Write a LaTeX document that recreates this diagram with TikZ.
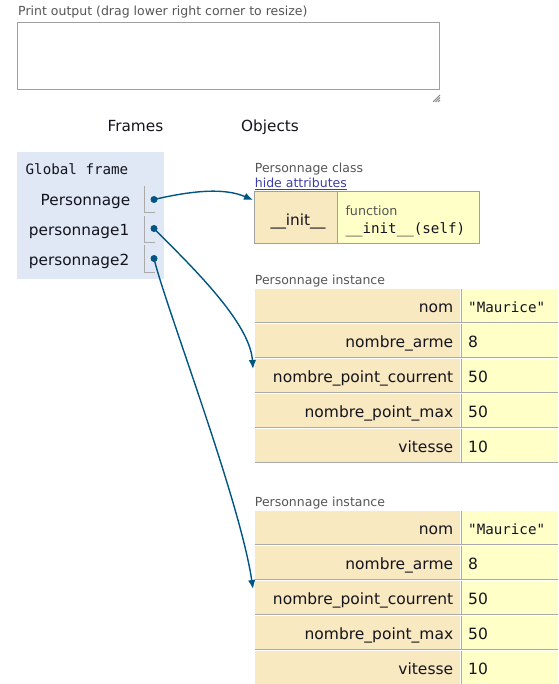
\documentclass[tikz,border=0pt]{standalone}
\usepackage{fontspec}
\setmainfont{DejaVu Sans}
\setmonofont{DejaVu Sans Mono}
\usetikzlibrary{arrows.meta,calc}
\definecolor{framebg}{RGB}{223,232,244}
\definecolor{keyfill}{RGB}{249,233,192}
\definecolor{valfill}{RGB}{255,255,200}
\definecolor{cellline}{RGB}{170,170,170}
\definecolor{boxline}{RGB}{160,160,160}
\definecolor{arrowc}{RGB}{0,85,131}
\definecolor{lblgray}{RGB}{85,85,85}
\definecolor{linkc}{RGB}{60,60,170}
\definecolor{txt}{RGB}{20,20,30}
\newcommand{\heaprow}[5]{% #1 prefix, #2 top y, #3 key, #4 value, #5 value style
  \node[keycell] (#1k) at (255,#2) {};
  \node[valcell] (#1v) at (462,#2) {};
  \draw[rowline] (255,#2+33.5) -- (558,#2+33.5);
  \draw[rowline] (461,#2) -- (461,#2+34);
  \node[keytext] (#1kt) at ($(#1k.east)+(-7,3.8)$) {#3};
  \node[#5] (#1vt) at ($(#1v.west)+(6,3.8)$) {#4};
}
\begin{document}
\begin{tikzpicture}[x=1pt,y=-1pt,
  lbl/.style={font=\fontsize{12.5}{15}\selectfont, text=lblgray, inner sep=0, anchor=mid west},
  head/.style={font=\fontsize{15.3}{18}\selectfont, text=txt, inner sep=0, anchor=mid},
  var/.style={font=\fontsize{15.3}{18}\selectfont, text=txt, inner sep=0, anchor=mid east},
  monotext/.style={font=\ttfamily\fontsize{14.2}{17}\selectfont, text=txt, inner sep=0, anchor=mid west},
  keytext/.style={font=\fontsize{15.5}{18}\selectfont, text=txt, inner sep=0, anchor=mid east},
  valtext/.style={font=\fontsize{15.5}{18}\selectfont, text=txt, inner sep=0, anchor=mid west},
  keycell/.style={fill=keyfill, draw=none, inner sep=0, anchor=north west, minimum width=205pt, minimum height=33pt},
  valcell/.style={fill=valfill, draw=none, inner sep=0, anchor=north west, minimum width=96pt, minimum height=33pt},
  rowline/.style={draw=cellline, line width=1pt},
  slotline/.style={draw=cellline, line width=1pt},
  dot/.style={circle, fill=arrowc, inner sep=0, minimum size=7pt},
  ptr/.style={draw=arrowc, line width=1.4pt, -{Latex[length=9pt,width=7.5pt]}}
]
\useasboundingbox (0,0) rectangle (558,684);
% print output
\node[lbl] (printlbl) at (18,12.8) {Print output (drag lower right corner to resize)};
\node[draw=boxline, line width=1.2pt, anchor=north west, minimum width=422pt, minimum height=67pt, inner sep=0] (printbox) at (17,22) {};
\draw[draw=gray, line width=0.8pt] (433,102) -- (440,95) (435.5,102) -- (440,97.5) (438,102) -- (440,100);
% headers
\node[head] (frameshdr) at (135.4,128.6) {Frames};
\node[head] (objhdr) at (270,128.6) {Objects};
% global frame
\node[fill=framebg, anchor=north west, minimum width=147pt, minimum height=127pt, inner sep=0] (gframe) at (17,152) {};
\node[monotext] (gtitle) at (25.5,171.4) {Global frame};
\node[var] (v1) at (130.5,203) {Personnage};
\node[var] (v2) at (129.5,233) {personnage1};
\node[var] (v3) at (129.5,263) {personnage2};
\draw[slotline] (144,186) -- (144,213) -- (155,213);
\draw[slotline] (144,216) -- (144,243) -- (155,243);
\draw[slotline] (144,245) -- (144,272) -- (155,272);
\node[dot] (d1) at (154,199.5) {};
\node[dot] (d2) at (154,228.5) {};
\node[dot] (d3) at (154,258.5) {};
% class object
\node[lbl] (clslbl) at (254.7,169.7) {Personnage class};
\node[lbl, text=linkc] (hide) at (254.7,184.7) {\underline{hide attributes}};
\node[fill=keyfill, anchor=north west, minimum width=82.5pt, minimum height=51pt, inner sep=0] (clsk) at (254.5,192) {};
\node[fill=valfill, anchor=north west, minimum width=142pt, minimum height=51pt, inner sep=0] (clsv) at (337,192) {};
\draw[draw=boxline, line width=1pt] (clsk.north west) rectangle (clsv.south east);
\draw[draw=boxline, line width=1pt] (clsk.north east) -- (clsk.south east);
\node[head, anchor=mid] (initk) at (298,222.5) {\_\_init\_\_};
\node[lbl, font=\fontsize{12.7}{15}\selectfont, text=lblgray] (fn) at (345.3,212.5) {function};
\node[monotext] (fnsig) at (345.3,230.5) {\_\_init\_\_(self)};
% instance 1
\node[lbl] (inst1lbl) at (254.7,281.5) {Personnage instance};
\heaprow{a}{289}{nom}{"Maurice"}{monotext}
\heaprow{b}{324}{nombre\_arme}{8}{valtext}
\heaprow{c}{359}{nombre\_point\_courrent}{50}{valtext}
\heaprow{d}{394}{nombre\_point\_max}{50}{valtext}
\heaprow{e}{429}{vitesse}{10}{valtext}
% instance 2
\node[lbl] (inst2lbl) at (254.7,503.5) {Personnage instance};
\heaprow{f}{511}{nom}{"Maurice"}{monotext}
\heaprow{g}{546}{nombre\_arme}{8}{valtext}
\heaprow{h}{581}{nombre\_point\_courrent}{50}{valtext}
\heaprow{i}{616}{nombre\_point\_max}{50}{valtext}
\heaprow{j}{651}{vitesse}{10}{valtext}
% pointers
\coordinate (t1) at (253,200);
\coordinate (t2) at (253,369);
\coordinate (t3) at (253,589);
\draw[ptr] (d1.center) .. controls (195,190) and (225,188) .. (t1);
\draw[ptr] (d2.center) .. controls (190,265) and (250,322) .. (t2);
\draw[ptr] (d3.center) .. controls (165,305) and (240,500) .. (t3);
\end{tikzpicture}
\end{document}
